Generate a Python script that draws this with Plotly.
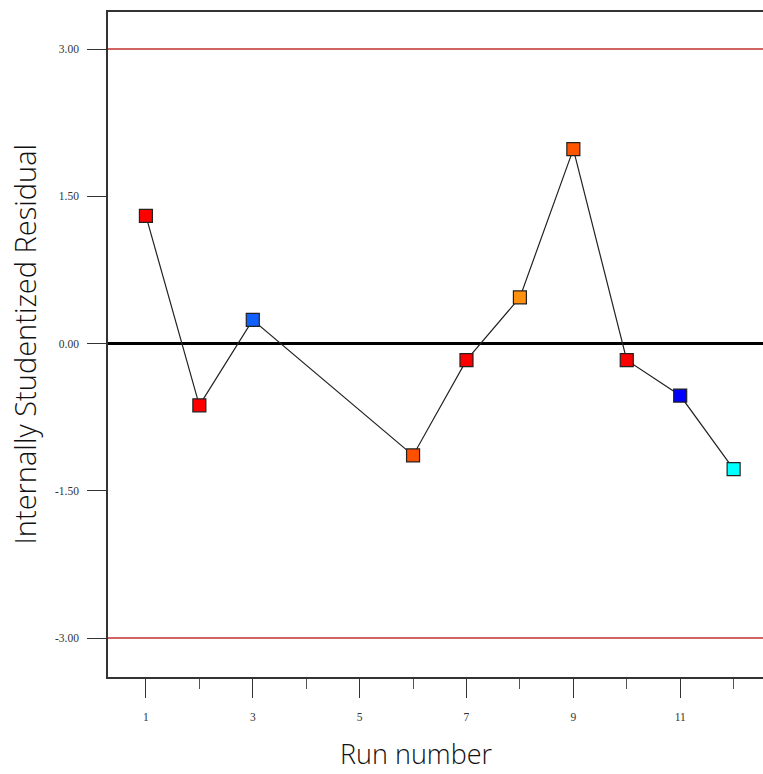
import plotly.graph_objects as go

runs = [1, 2, 3, 6, 7, 8, 9, 10, 11, 12]
residuals = [1.30, -0.63, 0.24, -1.14, -0.17, 0.47, 1.98, -0.17, -0.53, -1.28]
colors = ["#ff0000", "#ff0000", "#1060ff", "#ff5000", "#ff0000",
          "#ff9010", "#ff5500", "#ff0000", "#0000ff", "#00ffff"]
limit = 3.0
y_ticks = [3.0, 1.5, 0.0, -1.5, -3.0]
y_tick_labels = ["3.00", "1.50", "0.00", "-1.50", "-3.00"]
x_ticks = [1, 3, 5, 7, 9, 11]

fig = go.Figure()
fig.add_trace(go.Scatter(
    x=runs, y=residuals, mode="lines+markers",
    line=dict(color="#222222", width=1.2),
    marker=dict(symbol="square", size=13, color=colors,
                line=dict(color="#222222", width=1.2)),
    showlegend=False, cliponaxis=False,
))

for yv, col, w in [(limit, "#c03030", 1.5), (-limit, "#c03030", 1.5), (0, "black", 3)]:
    fig.add_shape(type="line", xref="paper", x0=0, x1=1, yref="y", y0=yv, y1=yv,
                  line=dict(color=col, width=w), layer="below")

fig.update_layout(
    width=763, height=774,
    margin=dict(l=108, r=0, t=12, b=97),
    plot_bgcolor="white", paper_bgcolor="white",
    xaxis=dict(range=[0.29, 12.55], tickvals=x_ticks, ticktext=[str(v) for v in x_ticks],
               ticks="outside", ticklen=19, tickwidth=1.2, tickcolor="#333333",
               showline=True, linecolor="#333333", linewidth=1.5, mirror=True,
               showgrid=False, zeroline=False,
               minor=dict(dtick=1, tick0=0, ticks="outside", ticklen=10, tickwidth=1.2,
                          tickcolor="#555555", showgrid=False),
               tickfont=dict(family="Liberation Serif", size=11.5, color="#333333"),
               ticklabelstandoff=9),
    yaxis=dict(range=[-3.397, 3.377], tickvals=y_ticks, ticktext=y_tick_labels,
               ticks="outside", ticklen=19, tickwidth=1.2, tickcolor="#333333",
               showline=True, linecolor="#333333", linewidth=1.5, mirror=False,
               showgrid=False, zeroline=False,
               tickfont=dict(family="Liberation Serif", size=11.5, color="#333333"),
               ticklabelstandoff=6),
    annotations=[
        dict(text="Internally Studentized Residual", xref="paper", yref="paper",
             x=0, y=0.5, xshift=-84, xanchor="center", yanchor="middle",
             textangle=-90, showarrow=False,
             font=dict(family="Open Sans", size=29, weight=300, color="#111111")),
        dict(text="Run number", xref="paper", yref="paper",
             x=(416 - 108) / 655, y=0, yshift=-76, xanchor="center", yanchor="middle",
             showarrow=False,
             font=dict(family="Open Sans", size=27, weight=300, color="#111111")),
    ],
)

fig.write_html("out.html", config={"displayModeBar": False},
               post_script="document.body.style.margin='0';document.body.style.overflow='hidden';")
